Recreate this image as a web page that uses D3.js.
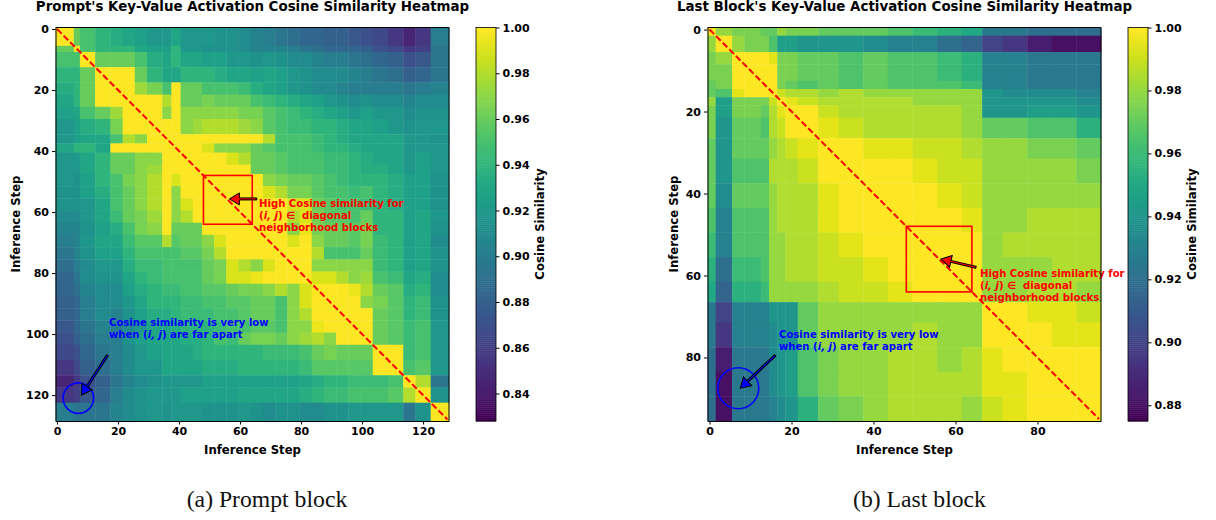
<!DOCTYPE html>
<html>
<head>
<meta charset="utf-8">
<script src="https://cdnjs.cloudflare.com/ajax/libs/d3/7.8.5/d3.min.js"></script>
<style>
  html, body { margin: 0; background: #fff; }
  text { font-family: "DejaVu Sans", sans-serif; font-weight: bold; }
  .domain { stroke: #000; stroke-width: 1; }
  .tick line { stroke: #000; }
  .tick text { font-size: 11px; fill: #000; }
</style>
</head>
<body>
<svg id="chart" width="1216" height="520"></svg>
<script>
// block edges in inference steps, then similarity (in %) per block, lower triangle only
const promptEdges = [0,6,8,13,18,22,26,30,35,38,41,45,48,52,56,60,64,68,72,76,80,84,88,92,96,100,104,109,114,118,123,129];
const promptRows = [
  [100],
  [96,100],
  [95,95,100],
  [94,94,96,100],
  [93.5,94,96,100,100],
  [93,94,96,100,100,100],
  [92.5,93,95,96,97.5,100,100],
  [92,92.5,93.5,94,96.5,100,100,100],
  [92,92.5,93,93,95,98,97,100,100],
  [93,94,94,93,100,100,100,100,100,100],
  [92,92,93,94,96,96,97,97,100,100,100],
  [92,92,93,94,96,96,97,97.5,100,100,100,100],
  [92,91.5,92.5,94,95,96.5,97,98,100,99,100,100,100],
  [91.5,91.5,92.5,93.5,95,96,97,98,100,97,100,100,100,100],
  [91.5,91.5,92,93,95,96,97,98,100,97,99,100,100,100,100],
  [91,91,92,93,94.5,96,96.5,97.5,100,97,98,100,100,100,100,100],
  [90.5,90.5,91.5,92.5,93.5,95,96.5,97,100,96,96,96,100,100,100,100,100],
  [90,90.5,92,93,93,94.5,95.5,95.5,98,95.5,96,96,97,99,100,100,100,100],
  [89.5,90.5,91.5,92.5,92.5,94,95,95,95,95,95.5,95.5,96.5,98,100,100,100,100,100],
  [89,90,91,92,92,93.5,94.5,94.5,95,95,95,95,96,96.5,99,98,97,99,100,100],
  [88.5,89.5,91,91.5,91.5,93,94,94.5,95,95,95,95,96,96.5,99,99,99.5,100,100,100,100],
  [88.5,89,90.5,91,91,92.5,93.5,94,94.5,94.5,95,95,95.5,95.5,96,96.5,96.5,97,98,97,99,100],
  [88,88.5,90,91,91,92,93,94,94,94,94.5,94.5,95,95,95.5,95.5,96,96,95,97,99,100,100],
  [88,88.5,90,91,90.5,91.5,92.5,93.5,93.5,94,94.5,94.5,94.5,95,95,95.5,96,96,95,97,98,100,100,100],
  [87.5,88.5,89.5,90.5,90,91,92,93,93,93.5,94,94,94,94.5,95,95,95.5,95.5,95,97,97,99.5,100,100,100],
  [87,88,89,90,90,91.5,92.5,93,93,93,93.5,93.5,94,95,94.5,96,96.5,96.5,96,97,97.5,98,97,100,100,100],
  [86.5,87,88.5,89.5,90,91,92,92.5,93,93,93,93.5,94,94,94,94,94,94.5,94.5,94.5,95,96,96.5,96,96,96,100],
  [85.5,86.5,88,89,90,91,92,92,93,93,93,93,93.5,93.5,93.5,94,94,94,94,94,94.5,95.5,95.5,95.5,95.5,95.5,100,100],
  [84.5,85.5,87,88,89.5,90.5,91,91.5,92,92,92,92,92.5,92.5,92.5,92.5,92.5,92.5,92.5,92.5,93,93.5,94,94,94.5,94.5,94.5,95,100],
  [85.5,86,87.5,88.5,90,91,91.5,92,92,92,92.5,92.5,92.5,92.5,92.5,93,93,93,93,93,93.5,94,94.5,94.5,95,95,95,95.5,98,100],
  [90,89.5,89.5,89.5,90.5,91,91.5,92,91.5,92,92,92,91.5,91.5,91.5,92,91.5,91,91.5,91.5,91,91,91.5,91.5,92,92,92,92,89.5,91.5,100]
];

const lastEdges = [0,2,6,9,13,15,17,19,22,27,32,38,44,50,56,62,67,72,78,84,90,96];
const lastRows = [
  [100],
  [98,100],
  [97.5,98,100],
  [97.5,97.5,100,100],
  [97,97.5,100,100,100],
  [97,96.5,99.5,100,100,100],
  [98,94.5,97.5,97.5,97.5,99,100],
  [97.5,94.5,97.5,97.5,97,98.5,99.5,100],
  [97.5,94,97,97,96.5,98.5,99,100,100],
  [97,94,97,97,97,98,98.5,99,99.5,100],
  [97,94,96.5,96.5,96.5,98.5,98.5,98.5,99,100,100],
  [97,93.5,97,97,97,98,98.5,98.5,98.5,99.5,100,100],
  [96.5,93,96.5,96.5,96.5,98,98.5,98.5,98.5,99.5,100,100,100],
  [96,93,96.5,96.5,96.5,98,98,98.5,98.5,99,99.5,100,100,100],
  [95.5,92,96,96,96.5,98,98,98.5,98.5,99,99,99.5,100,100,100],
  [95,91.5,95.5,95.5,96,98,98,98,98,98.5,99,99,99.5,100,100,100],
  [92.5,90,93,93,93,94,94,94,97,98,98,98,98,98,98,98,100],
  [92.5,89.5,93,93,93,93.5,94,94,97,98,98,98,98,98.5,98,98,100,100],
  [92,88.5,92.5,92.5,92.5,93.5,94,94.5,96.5,97.5,98,98,98.5,98.5,98,98.5,99.5,100,100],
  [92,88,92.5,92.5,92.5,93.5,94,94.5,96.5,97.5,98,98,98.5,98.5,98.5,98.5,99.5,99.5,100,100],
  [92,88,92.5,92.5,92.5,93,93.5,94,95.5,97,97.5,98,98.5,98.5,98.5,98,99,99.5,100,100,100]
];

const promptTicks = [0,20,40,60,80,100,120];
const lastTicks = [0,20,40,60,80];
const promptBarTicks = [0.84,0.86,0.88,0.90,0.92,0.94,0.96,0.98,1.00];
const lastBarTicks = [0.88,0.90,0.92,0.94,0.96,0.98,1.00];

const svg = d3.select("#chart");
const plotTop = 27.5, plotBottom = 421;

function arrow(g, x0, y0, x1, y1, fill) {
  // shaft + triangular head, same shape as a matplotlib fancy arrow
  const a = Math.atan2(y1 - y0, x1 - x0), len = Math.hypot(x1 - x0, y1 - y0);
  const pts = [[0,-1],[len-10,-1],[len-10,-6],[len,0],[len-10,6],[len-10,1],[0,1]];
  g.append("path")
    .attr("d", d3.line()(pts) + "Z")
    .attr("transform", "translate(" + x0 + "," + y0 + ") rotate(" + a * 180 / Math.PI + ")")
    .attr("fill", fill).attr("stroke", "#000").attr("stroke-width", 1);
}

function note(g, x, y, color, lines) {
  lines.forEach(function(line, i) {
    const t = g.append("text").attr("x", x).attr("y", y + i * 12.2)
      .attr("fill", color).style("font-size", "10.1px");
    line.forEach(function(part) {
      const s = t.append("tspan").text(part[0]);
      if (part[1]) s.style("font-style", "italic");
    });
  });
}

function drawPanel(p) {
  const n = p.edges[p.edges.length - 1];
  const x = d3.scaleLinear().domain([-0.5, n - 0.5]).range([p.left, p.left + 393.5]);
  const y = d3.scaleLinear().domain([-0.5, n - 0.5]).range([plotTop, plotBottom]);
  const color = d3.scaleSequential(d3.interpolateViridis).domain([p.min, 1]);
  const g = svg.append("g");

  // heatmap blocks, the matrix is symmetric
  const cells = [];
  for (let r = 0; r < p.rows.length; r++) {
    for (let c = 0; c < p.rows.length; c++) {
      cells.push({r: r, c: c, v: r >= c ? p.rows[r][c] : p.rows[c][r]});
    }
  }
  g.selectAll(".cell").data(cells).enter().append("rect")
    .attr("class", "cell")
    .attr("x", d => x(p.edges[d.c] - 0.5))
    .attr("y", d => y(p.edges[d.r] - 0.5))
    .attr("width", d => x(p.edges[d.c + 1] - 0.5) - x(p.edges[d.c] - 0.5) + 0.4)
    .attr("height", d => y(p.edges[d.r + 1] - 0.5) - y(p.edges[d.r] - 0.5) + 0.4)
    .attr("fill", d => color(d.v / 100));

  // dashed diagonal
  g.append("line")
    .attr("x1", x(0)).attr("y1", y(0)).attr("x2", x(n - 1)).attr("y2", y(n - 1))
    .attr("stroke", "#f00").attr("stroke-width", 2).attr("stroke-dasharray", "6.5,2.8");

  // annotations
  g.append("rect")
    .attr("x", x(48)).attr("y", y(48)).attr("width", x(64) - x(48)).attr("height", y(64) - y(48))
    .attr("fill", "none").attr("stroke", "#f00").attr("stroke-width", 1.6);
  g.append("circle")
    .attr("cx", x(7)).attr("cy", y(p.circleY)).attr("r", x(5) - x(0))
    .attr("fill", "none").attr("stroke", "#00f").attr("stroke-width", 1.6);
  arrow(g, x(p.redFrom[0]), y(p.redFrom[1]), x(p.redTo[0]), y(p.redTo[1]), "#f00");
  arrow(g, x(p.blueFrom[0]), y(p.blueFrom[1]), x(p.blueTo[0]), y(p.blueTo[1]), "#00f");
  note(g, p.redText[0], p.redText[1], "#f00", [
    [["High Cosine similarity for"]],
    [["("], ["i, j", true], [") \u2208\u00a0 diagonal"]],
    [["neighborhood blocks"]]
  ]);
  note(g, p.blueText[0], p.blueText[1], "#00f", [
    [["Cosine similarity is very low"]],
    [["when ("], ["i, j", true], [") are far apart"]]
  ]);

  // axes
  g.append("g").attr("transform", "translate(0," + plotBottom + ")")
    .call(d3.axisBottom(x).tickValues(p.ticks).tickSize(3.5).tickSizeOuter(0).tickPadding(3));
  g.append("g").attr("transform", "translate(" + p.left + ",0)")
    .call(d3.axisLeft(y).tickValues(p.ticks).tickSize(3.5).tickSizeOuter(0).tickPadding(3));
  g.append("line").attr("x1", p.left + 393.5).attr("x2", p.left + 393.5).attr("y1", plotTop).attr("y2", plotBottom).attr("stroke", "#000");
  g.append("line").attr("x1", p.left).attr("x2", p.left + 393.5).attr("y1", plotTop).attr("y2", plotTop).attr("stroke", "#000");

  g.append("text").attr("x", p.titleX).attr("y", 11).attr("text-anchor", "middle")
    .style("font-size", "13.4px").text(p.title);
  g.append("text").attr("x", p.left + 197).attr("y", 454).attr("text-anchor", "middle")
    .style("font-size", "11.7px").text("Inference Step");
  g.append("text").attr("transform", "translate(" + p.yLabelX + ",224) rotate(-90)")
    .attr("text-anchor", "middle").style("font-size", "11.7px").text("Inference Step");
  g.append("text").attr("x", p.captionX).attr("y", 507).attr("text-anchor", "middle")
    .style("font-family", '"Liberation Serif", serif').style("font-weight", "normal")
    .style("font-size", "23.7px").attr("fill", "#111").text(p.caption);

  // colorbar
  const bx = p.left + 420.5, bw = 20;
  const by = d3.scaleLinear().domain([p.min, 1]).range([plotBottom, plotTop]);
  g.selectAll(".strip").data(d3.range(0, 200)).enter().append("rect")
    .attr("class", "strip")
    .attr("x", bx).attr("width", bw)
    .attr("y", i => by(p.min + (1 - p.min) * (i + 1) / 200))
    .attr("height", (plotBottom - plotTop) / 200 + 0.5)
    .attr("fill", i => color(p.min + (1 - p.min) * (i + 0.5) / 200));
  g.append("rect").attr("x", bx).attr("y", plotTop).attr("width", bw).attr("height", plotBottom - plotTop)
    .attr("fill", "none").attr("stroke", "#000").attr("stroke-width", 0.8);
  g.append("g").attr("transform", "translate(" + (bx + bw) + ",0)")
    .call(d3.axisRight(by).tickValues(p.barTicks).tickFormat(d3.format(".2f")).tickSize(3.5).tickPadding(3))
    .select(".domain").remove();
  g.append("text").attr("transform", "translate(" + (p.left + 488.5) + ",224) rotate(-90)")
    .attr("text-anchor", "middle").style("font-size", "11.7px").text("Cosine Similarity");
}

drawPanel({
  left: 55.5, edges: promptEdges, rows: promptRows, ticks: promptTicks, barTicks: promptBarTicks, min: 0.828,
  title: "Prompt's Key-Value Activation Cosine Similarity Heatmap", titleX: 252.5, yLabelX: 19.5,
  caption: "(a) Prompt block", captionX: 267, circleY: 121,
  redFrom: [65.5, 55.7], redTo: [56.5, 55.7], blueFrom: [16.5, 107], blueTo: [8, 120],
  redText: [259, 207], blueText: [109, 326]
});
drawPanel({
  left: 707.5, edges: lastEdges, rows: lastRows, ticks: lastTicks, barTicks: lastBarTicks, min: 0.875,
  title: "Last Block's Key-Value Activation Cosine Similarity Heatmap", titleX: 904.5, yLabelX: 677.5,
  caption: "(b) Last block", captionX: 919.5, circleY: 87.5,
  redFrom: [65, 58], redTo: [56.5, 56], blueFrom: [16, 79.5], blueTo: [7.5, 87.5],
  redText: [980, 277], blueText: [779, 338]
});
</script>
</body>
</html>
